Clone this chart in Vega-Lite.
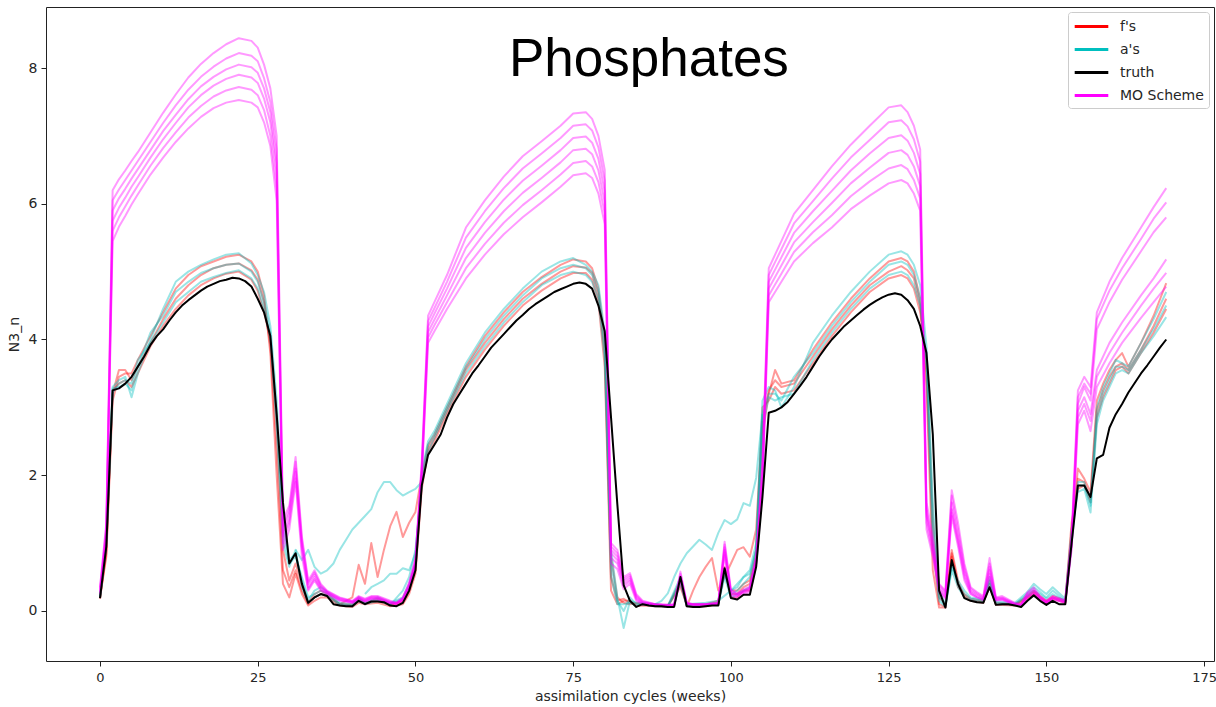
{
  "$schema": "https://vega.github.io/schema/vega-lite/v6.json",
  "width": 1168,
  "height": 654,
  "autosize": {"type": "none"},
  "padding": {"left": 46, "top": 7, "right": 2, "bottom": 46},
  "background": "white",
  "datasets": {
    "d": [
      {"t":0,"tr":0.19,"m1":0.35,"m2":0.33,"m3":0.3,"m4":0.28,"m5":0.26,"m6":0.24,"f1":0.2,"f2":0.19,"f3":0.18,"a1":0.22,"a2":0.2,"a3":0.19},
      {"t":1,"tr":0.95,"m1":1.3,"m2":1.25,"m3":1.2,"m4":1.15,"m5":1.1,"m6":1.05,"f1":0.8,"f2":0.85,"f3":0.9,"a1":1.0,"a2":1.05,"a3":0.95},
      {"t":2,"tr":3.25,"m1":6.2,"m2":6.05,"m3":5.9,"m4":5.75,"m5":5.6,"m6":5.45,"f1":3.1,"f2":3.2,"f3":3.25,"a1":3.3,"a2":3.28,"a3":3.22},
      {"t":3,"tr":3.28,"m1":6.36,"m2":6.21,"m3":6.08,"m4":5.94,"m5":5.8,"m6":5.66,"f1":3.45,"f2":3.55,"f3":3.35,"a1":3.4,"a2":3.3,"a3":3.35},
      {"t":4,"tr":3.35,"m1":6.49,"m2":6.35,"m3":6.22,"m4":6.09,"m5":5.96,"m6":5.82,"f1":3.5,"f2":3.55,"f3":3.4,"a1":3.45,"a2":3.35,"a3":3.4},
      {"t":5,"tr":3.45,"m1":6.63,"m2":6.49,"m3":6.37,"m4":6.25,"m5":6.12,"m6":5.99,"f1":3.5,"f2":3.4,"f3":3.3,"a1":3.15,"a2":3.25,"a3":3.35},
      {"t":6,"tr":3.6,"m1":6.76,"m2":6.63,"m3":6.51,"m4":6.39,"m5":6.27,"m6":6.14,"f1":3.7,"f2":3.6,"f3":3.5,"a1":3.5,"a2":3.6,"a3":3.7},
      {"t":7,"tr":3.75},
      {"t":8,"tr":3.92,"m1":7.05,"m2":6.91,"m3":6.79,"m4":6.68,"m5":6.56,"m6":6.43,"f1":4.05,"f2":3.95,"f3":3.9,"a1":4.0,"a2":4.1,"a3":3.95},
      {"t":9,"tr":4.05},
      {"t":10,"tr":4.15,"m1":7.34,"m2":7.19,"m3":7.07,"m4":6.95,"m5":6.82,"m6":6.68,"f1":4.4,"f2":4.3,"f3":4.2,"a1":4.45,"a2":4.35,"a3":4.25},
      {"t":11,"tr":4.28},
      {"t":12,"tr":4.4,"m1":7.61,"m2":7.45,"m3":7.31,"m4":7.19,"m5":7.05,"m6":6.91,"f1":4.75,"f2":4.6,"f3":4.45,"a1":4.85,"a2":4.7,"a3":4.55},
      {"t":13,"tr":4.5},
      {"t":14,"tr":4.58,"m1":7.86,"m2":7.68,"m3":7.54,"m4":7.42,"m5":7.27,"m6":7.11,"f1":4.95,"f2":4.8,"f3":4.65,"a1":5.0,"a2":4.85,"a3":4.7},
      {"t":15,"tr":4.65},
      {"t":16,"tr":4.72,"m1":8.06,"m2":7.87,"m3":7.73,"m4":7.6,"m5":7.44,"m6":7.28,"f1":5.08,"f2":4.95,"f3":4.8,"a1":5.1,"a2":4.98,"a3":4.85},
      {"t":17,"tr":4.78},
      {"t":18,"tr":4.82,"m1":8.22,"m2":8.02,"m3":7.87,"m4":7.74,"m5":7.58,"m6":7.41,"f1":5.15,"f2":5.05,"f3":4.9,"a1":5.18,"a2":5.05,"a3":4.92},
      {"t":19,"tr":4.86},
      {"t":20,"tr":4.88,"m1":8.35,"m2":8.14,"m3":7.98,"m4":7.84,"m5":7.67,"m6":7.49,"f1":5.22,"f2":5.1,"f3":4.97,"a1":5.25,"a2":5.1,"a3":4.98},
      {"t":21,"tr":4.91},
      {"t":22,"tr":4.9,"m1":8.44,"m2":8.22,"m3":8.05,"m4":7.9,"m5":7.72,"m6":7.53,"f1":5.25,"f2":5.12,"f3":5.0,"a1":5.27,"a2":5.12,"a3":5.02},
      {"t":23,"tr":4.86},
      {"t":24,"tr":4.78,"m1":8.4,"m2":8.18,"m3":8.01,"m4":7.86,"m5":7.68,"m6":7.49,"f1":5.15,"f2":5.02,"f3":4.88,"a1":5.12,"a2":5.0,"a3":4.9},
      {"t":25,"tr":4.6,"m1":8.3,"m2":8.1,"m3":7.93,"m4":7.78,"m5":7.6,"m6":7.42,"f1":5.0,"f2":4.88,"f3":4.72,"a1":4.95,"a2":4.85,"a3":4.75},
      {"t":26,"tr":4.4,"m1":8.05,"m2":7.85,"m3":7.7,"m4":7.55,"m5":7.38,"m6":7.2,"f1":4.65,"f2":4.55,"f3":4.4,"a1":4.7,"a2":4.55,"a3":4.45},
      {"t":27,"tr":4.05,"m1":7.7,"m2":7.5,"m3":7.35,"m4":7.2,"m5":7.0,"m6":6.85,"f1":3.8,"f2":3.9,"f3":4.0,"a1":4.2,"a2":4.1,"a3":4.0},
      {"t":28,"tr":2.9,"m1":7.0,"m2":6.8,"m3":6.6,"m4":6.45,"m5":6.25,"m6":6.05,"f1":2.0,"f2":2.4,"f3":2.8,"a1":3.1,"a2":2.9,"a3":2.7},
      {"t":29,"tr":1.6,"m1":1.35,"m2":1.25,"m3":1.15,"m4":1.1,"m5":1.0,"m6":0.9,"f1":0.4,"f2":0.6,"f3":0.9,"a1":1.4,"a2":1.2,"a3":1.0},
      {"t":30,"tr":0.7,"m1":1.55,"m2":1.5,"m3":1.45,"m4":1.35,"m5":1.3,"m6":1.2,"f1":0.2,"f2":0.35,"f3":0.45,"a1":0.75,"a2":0.7,"a3":0.65},
      {"t":31,"tr":0.85,"m1":2.27,"m2":2.2,"m3":2.1,"m4":2.05,"m5":1.95,"m6":1.9,"f1":0.55,"f2":0.6,"f3":0.7,"a1":0.85,"a2":0.8,"a3":0.9,"ao":0.9},
      {"t":32,"tr":0.4,"m1":1.1,"m2":1.05,"m3":1.0,"m4":0.95,"m5":0.9,"m6":0.8,"f1":0.25,"f2":0.3,"f3":0.4,"a1":0.45,"a2":0.5,"a3":0.35,"ao":0.75},
      {"t":33,"tr":0.12,"m1":0.45,"m2":0.42,"m3":0.4,"m4":0.35,"m5":0.32,"m6":0.3,"f1":0.08,"f2":0.1,"f3":0.12,"a1":0.15,"a2":0.2,"a3":0.12,"ao":0.9},
      {"t":34,"tr":0.2,"m1":0.6,"m2":0.57,"m3":0.54,"m4":0.5,"m5":0.47,"m6":0.45,"f1":0.15,"f2":0.2,"f3":0.25,"a1":0.3,"a2":0.25,"a3":0.2,"ao":0.65},
      {"t":35,"tr":0.25,"m1":0.4,"m2":0.38,"m3":0.36,"m4":0.34,"m5":0.32,"m6":0.3,"f1":0.2,"f2":0.25,"f3":0.3,"a1":0.35,"a2":0.3,"a3":0.25,"ao":0.55},
      {"t":36,"tr":0.22,"m1":0.3,"m2":0.29,"m3":0.28,"m4":0.27,"m5":0.26,"m6":0.25,"f1":0.2,"f2":0.22,"f3":0.25,"a1":0.28,"a2":0.25,"a3":0.22,"ao":0.6},
      {"t":37,"tr":0.1,"m1":0.25,"m2":0.24,"m3":0.23,"m4":0.22,"m5":0.21,"m6":0.2,"ao":0.7},
      {"t":38,"tr":0.08,"m1":0.2,"m2":0.19,"m3":0.18,"m4":0.17,"m5":0.16,"m6":0.15,"f1":0.08,"f2":0.1,"f3":0.1,"a1":0.12,"a2":0.1,"a3":0.09,"ao":0.9,"fo":0.1},
      {"t":39,"tr":0.07,"ao":1.05,"fo":0.15},
      {"t":40,"tr":0.07,"m1":0.15,"m2":0.14,"m3":0.14,"m4":0.13,"m5":0.12,"m6":0.12,"f1":0.06,"f2":0.08,"f3":0.1,"a1":0.1,"a2":0.08,"a3":0.07,"ao":1.2,"fo":0.2},
      {"t":41,"tr":0.15,"m1":0.22,"m2":0.21,"m3":0.2,"m4":0.19,"m5":0.18,"m6":0.17,"f1":0.12,"f2":0.15,"f3":0.18,"a1":0.2,"a2":0.17,"a3":0.15,"ao":1.3,"fo":0.68},
      {"t":42,"tr":0.1,"m1":0.18,"m2":0.17,"m3":0.16,"m4":0.15,"m5":0.14,"m6":0.14,"f1":0.1,"f2":0.11,"f3":0.12,"a1":0.12,"a2":0.11,"a3":0.1,"ao":1.4,"fo":0.4,"ap":0.25},
      {"t":43,"tr":0.14,"m1":0.22,"m2":0.21,"m3":0.2,"m4":0.19,"m5":0.18,"m6":0.17,"ao":1.5,"fo":1.0,"ap":0.35},
      {"t":44,"tr":0.14,"m1":0.22,"m2":0.21,"m3":0.2,"m4":0.19,"m5":0.18,"m6":0.17,"f1":0.12,"f2":0.15,"f3":0.18,"a1":0.2,"a2":0.17,"a3":0.15,"ao":1.75,"fo":0.5,"ap":0.4},
      {"t":45,"tr":0.13,"ao":1.9,"fo":0.9,"ap":0.45},
      {"t":46,"tr":0.08,"m1":0.15,"m2":0.14,"m3":0.13,"m4":0.12,"m5":0.12,"m6":0.11,"f1":0.07,"f2":0.09,"f3":0.1,"a1":0.12,"a2":0.1,"a3":0.09,"ao":1.9,"fo":1.25,"ap":0.55},
      {"t":47,"tr":0.07,"m1":0.12,"m2":0.12,"m3":0.11,"m4":0.11,"m5":0.1,"m6":0.1,"ao":1.78,"fo":1.46,"ap":0.55},
      {"t":48,"tr":0.12,"m1":0.2,"m2":0.19,"m3":0.18,"m4":0.17,"m5":0.16,"m6":0.15,"f1":0.1,"f2":0.12,"f3":0.15,"a1":0.2,"a2":0.18,"a3":0.3,"ao":1.7,"fo":1.09,"ap":0.63},
      {"t":49,"tr":0.3,"m1":0.42,"m2":0.4,"m3":0.38,"m4":0.36,"m5":0.34,"m6":0.32,"f1":0.25,"f2":0.3,"f3":0.35,"a1":0.4,"a2":0.35,"a3":0.5,"ao":1.75,"fo":1.3,"ap":0.6},
      {"t":50,"tr":0.6,"m1":0.78,"m2":0.75,"m3":0.72,"m4":0.7,"m5":0.68,"m6":0.65,"f1":0.55,"f2":0.6,"f3":0.7,"a1":0.7,"a2":0.65,"a3":0.9,"ao":1.8,"fo":1.46,"ap":0.85},
      {"t":51,"tr":1.85,"m1":2.2,"m2":2.15,"m3":2.1,"m4":2.05,"m5":2.0,"m6":1.95,"f1":1.8,"f2":1.9,"f3":2.0,"a1":2.05,"a2":1.95,"a3":1.85,"ao":1.9,"fo":2.0,"ap":1.9},
      {"t":52,"tr":2.3,"m1":4.35,"m2":4.27,"m3":4.19,"m4":4.11,"m5":4.03,"m6":3.95,"f1":2.35,"f2":2.4,"f3":2.45,"a1":2.5,"a2":2.45,"a3":2.35},
      {"t":53,"tr":2.45,"m1":4.55,"m2":4.46,"m3":4.38,"m4":4.29,"m5":4.21,"m6":4.12,"f1":2.5,"f2":2.55,"f3":2.6,"a1":2.65,"a2":2.6,"a3":2.55},
      {"t":54,"tr":2.6},
      {"t":55,"tr":2.85,"m1":4.95,"m2":4.85,"m3":4.75,"m4":4.65,"m5":4.55,"m6":4.45,"f1":2.9,"f2":2.95,"f3":3.0,"a1":3.05,"a2":3.0,"a3":2.95},
      {"t":56,"tr":3.05},
      {"t":57,"tr":3.2},
      {"t":58,"tr":3.35,"m1":5.65,"m2":5.5,"m3":5.35,"m4":5.2,"m5":5.05,"m6":4.9,"f1":3.45,"f2":3.55,"f3":3.6,"a1":3.65,"a2":3.58,"a3":3.5},
      {"t":59,"tr":3.5},
      {"t":60,"tr":3.62},
      {"t":61,"tr":3.75,"m1":6.05,"m2":5.89,"m3":5.73,"m4":5.57,"m5":5.41,"m6":5.25,"f1":3.85,"f2":3.95,"f3":4.05,"a1":4.1,"a2":4.0,"a3":3.9},
      {"t":62,"tr":3.88},
      {"t":63,"tr":3.98},
      {"t":64,"tr":4.08,"m1":6.4,"m2":6.23,"m3":6.06,"m4":5.89,"m5":5.72,"m6":5.55,"f1":4.2,"f2":4.3,"f3":4.4,"a1":4.45,"a2":4.35,"a3":4.25},
      {"t":65,"tr":4.18},
      {"t":66,"tr":4.28},
      {"t":67,"tr":4.36,"m1":6.7,"m2":6.52,"m3":6.34,"m4":6.16,"m5":5.98,"m6":5.8,"f1":4.5,"f2":4.6,"f3":4.7,"a1":4.75,"a2":4.65,"a3":4.55},
      {"t":68,"tr":4.45},
      {"t":69,"tr":4.52},
      {"t":70,"tr":4.58,"m1":6.92,"m2":6.74,"m3":6.56,"m4":6.38,"m5":6.2,"m6":6.02,"f1":4.72,"f2":4.82,"f3":4.92,"a1":5.0,"a2":4.9,"a3":4.8},
      {"t":71,"tr":4.64},
      {"t":72,"tr":4.7},
      {"t":73,"tr":4.74,"m1":7.15,"m2":6.97,"m3":6.79,"m4":6.61,"m5":6.43,"m6":6.25,"f1":4.9,"f2":5.0,"f3":5.1,"a1":5.15,"a2":5.05,"a3":4.95},
      {"t":74,"tr":4.78},
      {"t":75,"tr":4.82,"m1":7.33,"m2":7.15,"m3":6.97,"m4":6.79,"m5":6.6,"m6":6.42,"f1":4.98,"f2":5.08,"f3":5.18,"a1":5.2,"a2":5.1,"a3":5.0},
      {"t":76,"tr":4.84},
      {"t":77,"tr":4.82,"m1":7.35,"m2":7.17,"m3":6.99,"m4":6.81,"m5":6.63,"m6":6.45,"f1":4.98,"f2":5.06,"f3":5.15,"a1":5.1,"a2":5.05,"a3":4.95},
      {"t":78,"tr":4.75,"m1":7.25,"m2":7.08,"m3":6.9,"m4":6.73,"m5":6.55,"m6":6.38,"f1":4.88,"f2":4.98,"f3":5.05,"a1":5.0,"a2":4.95,"a3":4.85},
      {"t":79,"tr":4.5,"m1":7.0,"m2":6.83,"m3":6.66,"m4":6.49,"m5":6.32,"m6":6.15,"f1":4.55,"f2":4.65,"f3":4.75,"a1":4.8,"a2":4.7,"a3":4.6},
      {"t":80,"tr":4.12,"m1":6.5,"m2":6.34,"m3":6.18,"m4":6.02,"m5":5.86,"m6":5.7,"f1":3.6,"f2":3.8,"f3":4.0,"a1":4.1,"a2":3.9,"a3":3.7},
      {"t":81,"tr":2.85,"m1":1.0,"m2":0.95,"m3":0.9,"m4":0.85,"m5":0.78,"m6":0.7,"f1":0.3,"f2":0.5,"f3":0.8,"a1":0.9,"a2":0.7,"a3":0.5},
      {"t":82,"tr":1.57,"m1":0.9,"m2":0.85,"m3":0.8,"m4":0.75,"m5":0.7,"m6":0.62,"f1":0.1,"f2":0.15,"f3":0.2,"a1":0.2,"a2":0.15,"a3":0.1},
      {"t":83,"tr":0.38,"m1":0.5,"m2":0.47,"m3":0.44,"m4":0.4,"m5":0.36,"m6":0.32,"f1":0.15,"f2":0.18,"f3":0.12,"a1":-0.25,"a2":0.0,"a3":0.1},
      {"t":84,"tr":0.15,"m1":0.56,"m2":0.53,"m3":0.5,"m4":0.47,"m5":0.44,"m6":0.4,"f1":0.15,"f2":0.12,"f3":0.1,"a1":0.15,"a2":0.2,"a3":0.12},
      {"t":85,"tr":0.06,"m1":0.25,"m2":0.23,"m3":0.21,"m4":0.19,"m5":0.17,"m6":0.15,"f1":0.07,"f2":0.1,"f3":0.12,"a1":0.12,"a2":0.1,"a3":0.08},
      {"t":86,"tr":0.1,"m1":0.15,"m2":0.14,"m3":0.13,"m4":0.12,"m5":0.11,"m6":0.1,"f1":0.08,"f2":0.1,"f3":0.11,"a1":0.12,"a2":0.11,"a3":0.1},
      {"t":87,"tr":0.08},
      {"t":88,"tr":0.07,"m1":0.1,"m2":0.1,"m3":0.1,"m4":0.09,"m5":0.09,"m6":0.08,"f1":0.07,"f2":0.08,"f3":0.1,"a1":0.1,"a2":0.08,"a3":0.07,"aq":0.1},
      {"t":89,"tr":0.07,"aq":0.15},
      {"t":90,"tr":0.06,"m1":0.09,"m2":0.09,"m3":0.08,"m4":0.08,"m5":0.07,"m6":0.07,"f1":0.06,"f2":0.07,"f3":0.08,"a1":0.08,"a2":0.07,"a3":0.06,"aq":0.26},
      {"t":91,"tr":0.06,"m1":0.1,"m2":0.1,"m3":0.09,"m4":0.09,"m5":0.08,"m6":0.08,"aq":0.5},
      {"t":92,"tr":0.5,"m1":0.58,"m2":0.55,"m3":0.52,"m4":0.5,"m5":0.48,"m6":0.45,"f1":0.45,"f2":0.4,"f3":0.35,"a1":0.5,"a2":0.45,"a3":0.4,"aq":0.7},
      {"t":93,"tr":0.07,"m1":0.12,"m2":0.12,"m3":0.11,"m4":0.11,"m5":0.1,"m6":0.1,"f1":0.07,"f2":0.08,"f3":0.1,"a1":0.1,"a2":0.08,"a3":0.07,"aq":0.85,"fq":0.06},
      {"t":94,"tr":0.06,"m1":0.1,"m2":0.1,"m3":0.1,"m4":0.09,"m5":0.09,"m6":0.09,"aq":0.95,"fq":0.3},
      {"t":95,"tr":0.06,"aq":1.05,"fq":0.5},
      {"t":96,"tr":0.07,"m1":0.1,"m2":0.1,"m3":0.1,"m4":0.09,"m5":0.09,"m6":0.09,"f1":0.07,"f2":0.08,"f3":0.1,"a1":0.12,"a2":0.1,"a3":0.08,"aq":0.98,"fq":0.65},
      {"t":97,"tr":0.08,"aq":0.9,"fq":0.78},
      {"t":98,"tr":0.08,"m1":0.12,"m2":0.12,"m3":0.11,"m4":0.11,"m5":0.1,"m6":0.1,"f1":0.1,"f2":0.12,"f3":0.15,"a1":0.15,"a2":0.12,"a3":0.1,"aq":1.15,"fq":0.3,"ar":0.15},
      {"t":99,"tr":0.63,"m1":1.02,"m2":0.98,"m3":0.94,"m4":0.9,"m5":0.86,"m6":0.82,"f1":0.65,"f2":0.6,"f3":0.55,"a1":0.6,"a2":0.55,"a3":0.5,"aq":1.34,"fq":0.5},
      {"t":100,"tr":0.19,"m1":0.32,"m2":0.3,"m3":0.28,"m4":0.26,"m5":0.24,"m6":0.22,"f1":0.2,"f2":0.25,"f3":0.3,"a1":0.3,"a2":0.25,"a3":0.2,"aq":1.28,"fq":0.7,"ar":0.3},
      {"t":101,"tr":0.17,"m1":0.26,"m2":0.25,"m3":0.24,"m4":0.23,"m5":0.22,"m6":0.2,"f1":0.2,"f2":0.25,"f3":0.3,"a1":0.35,"a2":0.3,"a3":0.25,"aq":1.35,"fq":0.9,"ar":0.4},
      {"t":102,"tr":0.24,"m1":0.32,"m2":0.3,"m3":0.29,"m4":0.28,"m5":0.27,"m6":0.25,"f1":0.3,"f2":0.35,"f3":0.4,"a1":0.5,"a2":0.4,"a3":0.3,"aq":1.59,"fq":0.94,"ar":0.5},
      {"t":103,"tr":0.24,"m1":0.36,"m2":0.34,"m3":0.33,"m4":0.32,"m5":0.3,"m6":0.28,"f1":0.3,"f2":0.4,"f3":0.45,"a1":0.6,"a2":0.5,"a3":0.35,"aq":1.55,"fq":0.8,"ar":0.55},
      {"t":104,"tr":0.65,"m1":0.8,"m2":0.78,"m3":0.75,"m4":0.72,"m5":0.7,"m6":0.66,"f1":0.7,"f2":0.8,"f3":0.9,"a1":1.0,"a2":0.9,"a3":0.8,"aq":1.96,"fq":1.2,"ar":0.9},
      {"t":105,"tr":1.68,"m1":2.2,"m2":2.1,"m3":2.0,"m4":1.95,"m5":1.9,"m6":1.8,"f1":2.6,"f2":2.8,"f3":3.0,"a1":3.1,"a2":2.9,"a3":2.7,"aq":2.9,"fq":2.8,"ar":2.6},
      {"t":106,"tr":2.92,"m1":5.05,"m2":4.95,"m3":4.85,"m4":4.75,"m5":4.65,"m6":4.55,"f1":3.2,"f2":3.25,"f3":3.1,"a1":3.3,"a2":3.2,"a3":3.15},
      {"t":107,"tr":2.95,"m1":5.25,"m2":5.14,"m3":5.03,"m4":4.92,"m5":4.81,"m6":4.7,"f1":3.55,"f2":3.4,"f3":3.3,"a1":3.25,"a2":3.2,"a3":3.1},
      {"t":108,"tr":3.0,"m1":5.45,"m2":5.33,"m3":5.21,"m4":5.09,"m5":4.97,"m6":4.85,"f1":3.35,"f2":3.3,"f3":3.2,"a1":3.0,"a2":3.1,"a3":3.15},
      {"t":109,"tr":3.08},
      {"t":110,"tr":3.2,"m1":5.85,"m2":5.71,"m3":5.57,"m4":5.43,"m5":5.29,"m6":5.15,"f1":3.4,"f2":3.35,"f3":3.25,"a1":3.3,"a2":3.45,"a3":3.2},
      {"t":111,"tr":3.32},
      {"t":112,"tr":3.45},
      {"t":113,"tr":3.6,"m1":6.2,"m2":6.04,"m3":5.89,"m4":5.73,"m5":5.58,"m6":5.42,"f1":3.85,"f2":3.75,"f3":3.65,"a1":3.95,"a2":3.8,"a3":3.7},
      {"t":114,"tr":3.75},
      {"t":115,"tr":3.88},
      {"t":116,"tr":4.0,"m1":6.55,"m2":6.37,"m3":6.19,"m4":6.01,"m5":5.83,"m6":5.65,"f1":4.25,"f2":4.15,"f3":4.05,"a1":4.35,"a2":4.2,"a3":4.1},
      {"t":117,"tr":4.1},
      {"t":118,"tr":4.2},
      {"t":119,"tr":4.28,"m1":6.87,"m2":6.68,"m3":6.49,"m4":6.3,"m5":6.11,"m6":5.92,"f1":4.6,"f2":4.5,"f3":4.4,"a1":4.7,"a2":4.55,"a3":4.45},
      {"t":120,"tr":4.36},
      {"t":121,"tr":4.44},
      {"t":122,"tr":4.51,"m1":7.15,"m2":6.94,"m3":6.74,"m4":6.53,"m5":6.33,"m6":6.12,"f1":4.9,"f2":4.8,"f3":4.7,"a1":5.0,"a2":4.85,"a3":4.75},
      {"t":123,"tr":4.57},
      {"t":124,"tr":4.62},
      {"t":125,"tr":4.66,"m1":7.42,"m2":7.2,"m3":6.97,"m4":6.75,"m5":6.52,"m6":6.3,"f1":5.15,"f2":5.0,"f3":4.9,"a1":5.25,"a2":5.1,"a3":4.95},
      {"t":126,"tr":4.68},
      {"t":127,"tr":4.66,"m1":7.45,"m2":7.23,"m3":7.01,"m4":6.79,"m5":6.57,"m6":6.35,"f1":5.2,"f2":5.08,"f3":4.95,"a1":5.3,"a2":5.15,"a3":5.0},
      {"t":128,"tr":4.58,"m1":7.35,"m2":7.14,"m3":6.93,"m4":6.72,"m5":6.51,"m6":6.3,"f1":5.15,"f2":5.02,"f3":4.9,"a1":5.25,"a2":5.1,"a3":4.95},
      {"t":129,"tr":4.45,"m1":7.15,"m2":6.95,"m3":6.75,"m4":6.55,"m5":6.35,"m6":6.15,"f1":5.0,"f2":4.9,"f3":4.75,"a1":5.1,"a2":4.95,"a3":4.8},
      {"t":130,"tr":4.2,"m1":6.8,"m2":6.62,"m3":6.44,"m4":6.26,"m5":6.08,"m6":5.9,"f1":4.6,"f2":4.5,"f3":4.4,"a1":4.8,"a2":4.6,"a3":4.5},
      {"t":131,"tr":3.8,"m1":1.6,"m2":1.5,"m3":1.45,"m4":1.4,"m5":1.3,"m6":1.2,"f1":3.3,"f2":3.5,"f3":3.7,"a1":3.9,"a2":3.7,"a3":3.6},
      {"t":132,"tr":2.6,"m1":1.1,"m2":1.0,"m3":0.95,"m4":0.9,"m5":0.85,"m6":0.8,"f1":0.6,"f2":1.0,"f3":1.4,"a1":1.6,"a2":1.3,"a3":1.0},
      {"t":133,"tr":0.3,"m1":0.4,"m2":0.38,"m3":0.35,"m4":0.32,"m5":0.3,"m6":0.28,"f1":0.05,"f2":0.1,"f3":0.2,"a1":0.3,"a2":0.2,"a3":0.15},
      {"t":134,"tr":0.05,"m1":0.3,"m2":0.28,"m3":0.25,"m4":0.22,"m5":0.2,"m6":0.18,"f1":0.05,"f2":0.06,"f3":0.1,"a1":0.1,"a2":0.08,"a3":0.06},
      {"t":135,"tr":0.75,"m1":1.78,"m2":1.7,"m3":1.6,"m4":1.5,"m5":1.45,"m6":1.4,"f1":0.9,"f2":0.85,"f3":0.8,"a1":0.7,"a2":0.65,"a3":0.6},
      {"t":136,"tr":0.4,"m1":1.3,"m2":1.2,"m3":1.1,"m4":1.05,"m5":1.0,"m6":0.95,"f1":0.45,"f2":0.4,"f3":0.35,"a1":0.4,"a2":0.45,"a3":0.35},
      {"t":137,"tr":0.19,"m1":0.7,"m2":0.65,"m3":0.6,"m4":0.55,"m5":0.5,"m6":0.45,"f1":0.2,"f2":0.22,"f3":0.25,"a1":0.25,"a2":0.3,"a3":0.2},
      {"t":138,"tr":0.15,"m1":0.35,"m2":0.33,"m3":0.3,"m4":0.28,"m5":0.26,"m6":0.25,"f1":0.15,"f2":0.16,"f3":0.18,"a1":0.18,"a2":0.2,"a3":0.16},
      {"t":139,"tr":0.13,"m1":0.28,"m2":0.26,"m3":0.24,"m4":0.22,"m5":0.2,"m6":0.2},
      {"t":140,"tr":0.12,"m1":0.22,"m2":0.2,"m3":0.19,"m4":0.18,"m5":0.17,"m6":0.16,"f1":0.12,"f2":0.13,"f3":0.15,"a1":0.15,"a2":0.17,"a3":0.13},
      {"t":141,"tr":0.35,"m1":0.78,"m2":0.7,"m3":0.65,"m4":0.6,"m5":0.55,"m6":0.5,"f1":0.4,"f2":0.35,"f3":0.45,"a1":0.45,"a2":0.5,"a3":0.4},
      {"t":142,"tr":0.09,"m1":0.2,"m2":0.19,"m3":0.18,"m4":0.17,"m5":0.16,"m6":0.15,"f1":0.09,"f2":0.1,"f3":0.12,"a1":0.12,"a2":0.14,"a3":0.1},
      {"t":143,"tr":0.1,"m1":0.22,"m2":0.2,"m3":0.19,"m4":0.18,"m5":0.17,"m6":0.16},
      {"t":144,"tr":0.1},
      {"t":145,"tr":0.08,"m1":0.12,"m2":0.11,"m3":0.1,"m4":0.1,"m5":0.09,"m6":0.09,"f1":0.08,"f2":0.09,"f3":0.1,"a1":0.1,"a2":0.12,"a3":0.09},
      {"t":146,"tr":0.06,"m1":0.1,"m2":0.1,"m3":0.09,"m4":0.09,"m5":0.08,"m6":0.08},
      {"t":147,"tr":0.15,"m1":0.28,"m2":0.26,"m3":0.24,"m4":0.22,"m5":0.2,"m6":0.2,"f1":0.18,"f2":0.2,"f3":0.22,"a1":0.25,"a2":0.28,"a3":0.22},
      {"t":148,"tr":0.23,"m1":0.35,"m2":0.32,"m3":0.3,"m4":0.28,"m5":0.26,"m6":0.25,"f1":0.25,"f2":0.28,"f3":0.3,"a1":0.35,"a2":0.4,"a3":0.3},
      {"t":149,"tr":0.15,"m1":0.22,"m2":0.2,"m3":0.2,"m4":0.19,"m5":0.18,"m6":0.17,"f1":0.18,"f2":0.2,"f3":0.22,"a1":0.28,"a2":0.32,"a3":0.25},
      {"t":150,"tr":0.09,"m1":0.15,"m2":0.14,"m3":0.13,"m4":0.12,"m5":0.12,"m6":0.11,"f1":0.12,"f2":0.14,"f3":0.15,"a1":0.2,"a2":0.25,"a3":0.18},
      {"t":151,"tr":0.15,"m1":0.22,"m2":0.2,"m3":0.2,"m4":0.19,"m5":0.18,"m6":0.17,"f1":0.18,"f2":0.2,"f3":0.22,"a1":0.3,"a2":0.35,"a3":0.25},
      {"t":152,"tr":0.1},
      {"t":153,"tr":0.1,"m1":0.16,"m2":0.15,"m3":0.14,"m4":0.13,"m5":0.12,"m6":0.12,"f1":0.12,"f2":0.13,"f3":0.15,"a1":0.15,"a2":0.18,"a3":0.14},
      {"t":154,"tr":1.0,"m1":1.1,"m2":1.05,"m3":1.0,"m4":1.0,"m5":0.95,"m6":0.9,"f1":1.1,"f2":1.2,"f3":1.3,"a1":1.2,"a2":1.1,"a3":1.0},
      {"t":155,"tr":1.85,"m1":3.25,"m2":3.15,"m3":3.05,"m4":2.95,"m5":2.85,"m6":2.75,"f1":2.1,"f2":1.95,"f3":1.8,"a1":1.75,"a2":1.85,"a3":1.9},
      {"t":156,"tr":1.85,"m1":3.45,"m2":3.35,"m3":3.3,"m4":3.15,"m5":3.05,"m6":2.95,"f1":1.95,"f2":1.9,"f3":1.85,"a1":1.8,"a2":1.85,"a3":1.9},
      {"t":157,"tr":1.68,"m1":3.3,"m2":3.2,"m3":3.1,"m4":2.9,"m5":2.8,"m6":2.65,"f1":1.75,"f2":1.65,"f3":1.6,"a1":1.45,"a2":1.55,"a3":1.6},
      {"t":158,"tr":2.25,"m1":4.4,"m2":4.3,"m3":4.15,"m4":3.55,"m5":3.45,"m6":3.3,"f1":3.1,"f2":2.95,"f3":2.85,"a1":2.75,"a2":2.85,"a3":3.0},
      {"t":159,"tr":2.3,"f1":3.35,"f2":3.25,"f3":3.15,"a1":3.1,"a2":3.2,"a3":3.3},
      {"t":160,"tr":2.7,"m1":4.85,"m2":4.72,"m3":4.55,"m4":3.95,"m5":3.8,"m6":3.65,"f1":3.55,"f2":3.45,"f3":3.35,"a1":3.3,"a2":3.4,"a3":3.5},
      {"t":161,"tr":2.9,"f1":3.7,"f2":3.6,"f3":3.55,"a1":3.5,"a2":3.6,"a3":3.7},
      {"t":162,"tr":3.05,"m1":5.2,"m2":5.05,"m3":4.88,"m4":4.25,"m5":4.1,"m6":3.95,"f1":3.8,"f2":3.65,"f3":3.6,"a1":3.55,"a2":3.6,"a3":3.65},
      {"t":163,"tr":3.22,"f1":3.6,"f2":3.55,"f3":3.5,"a1":3.5,"a2":3.55,"a3":3.6},
      {"t":164,"tr":3.36},
      {"t":165,"tr":3.5,"m1":5.65,"m2":5.48,"m3":5.3,"m4":4.65,"m5":4.5,"m6":4.32,"f1":3.95,"f2":3.85,"f3":3.8,"a1":3.8,"a2":3.85,"a3":3.95},
      {"t":166,"tr":3.62},
      {"t":167,"tr":3.75,"m1":5.95,"m2":5.78,"m3":5.58,"m4":4.9,"m5":4.75,"m6":4.55,"f1":4.35,"f2":4.2,"f3":4.1,"a1":4.05,"a2":4.15,"a3":4.3},
      {"t":168,"tr":3.88},
      {"t":169,"tr":4.0,"m1":6.23,"m2":6.02,"m3":5.8,"m4":5.18,"m5":4.98,"m6":4.78,"f1":4.83,"f2":4.6,"f3":4.45,"a1":4.33,"a2":4.5,"a3":4.7}
    ]
  },
  "layer": [
    {
      "data": {"name": "d"},
      "transform": [
        {"fold": ["f1", "f2", "f3", "fo", "fq"], "as": ["k", "v"]},
        {"filter": "isValid(datum.v)"}
      ],
      "mark": {"type": "line", "strokeWidth": 2, "opacity": 0.4, "strokeJoin": "round"},
      "encoding": {
        "x": {"field": "t", "type": "quantitative", "scale": {"domain": [-8.56, 176.57], "nice": false, "zero": false},
              "axis": {"values": [0, 25, 50, 75, 100, 125, 150, 175], "format": "d", "title": "assimilation cycles (weeks)", "labelFontSize": 13, "labelPadding": 5, "titlePadding": 5}},
        "y": {"field": "v", "type": "quantitative", "scale": {"domain": [-0.737, 8.899], "nice": false, "zero": false},
              "axis": {"values": [0, 2, 4, 6, 8], "format": "d", "title": "N3_n", "labelPadding": 4, "titlePadding": 7}},
        "detail": {"field": "k"},
        "color": {"datum": "f's", "type": "nominal",
                  "scale": {"domain": ["f's", "a's", "truth", "MO Scheme"], "range": ["#ff0000", "#00bfbf", "#000000", "#ff00ff"]},
                  "legend": {"title": null}}
      }
    },
    {
      "data": {"name": "d"},
      "transform": [
        {"fold": ["a1", "a2", "a3", "ao", "ap", "aq", "ar"], "as": ["k", "v"]},
        {"filter": "isValid(datum.v)"}
      ],
      "mark": {"type": "line", "strokeWidth": 2, "opacity": 0.4, "strokeJoin": "round"},
      "encoding": {
        "x": {"field": "t", "type": "quantitative"},
        "y": {"field": "v", "type": "quantitative"},
        "detail": {"field": "k"},
        "color": {"datum": "a's", "type": "nominal"}
      }
    },
    {
      "data": {"name": "d"},
      "transform": [
        {"fold": ["m1", "m2", "m3", "m4", "m5", "m6"], "as": ["k", "v"]},
        {"filter": "isValid(datum.v)"}
      ],
      "mark": {"type": "line", "strokeWidth": 2, "opacity": 0.4, "strokeJoin": "round"},
      "encoding": {
        "x": {"field": "t", "type": "quantitative"},
        "y": {"field": "v", "type": "quantitative"},
        "detail": {"field": "k"},
        "color": {"datum": "MO Scheme", "type": "nominal"}
      }
    },
    {
      "data": {"name": "d"},
      "mark": {"type": "line", "strokeWidth": 2, "strokeJoin": "round"},
      "encoding": {
        "x": {"field": "t", "type": "quantitative"},
        "y": {"field": "tr", "type": "quantitative"},
        "color": {"datum": "truth", "type": "nominal"}
      }
    },
    {
      "data": {"values": [{"label": "Phosphates"}]},
      "mark": {"type": "text", "font": "Liberation Sans", "fontSize": 53, "align": "center", "baseline": "alphabetic", "color": "#000000"},
      "encoding": {
        "x": {"datum": 87},
        "y": {"datum": 7.88},
        "text": {"field": "label"}
      }
    }
  ],
  "config": {
    "view": {"stroke": "#222222", "strokeWidth": 1},
    "axis": {
      "grid": false,
      "domain": false,
      "tickColor": "#222222",
      "tickSize": 5,
      "labelFont": "DejaVu Sans",
      "labelFontSize": 14,
      "labelColor": "#262626",
      "titleFont": "DejaVu Sans",
      "titleFontSize": 14,
      "titleFontWeight": "normal",
      "titleColor": "#262626"
    },
    "legend": {
      "orient": "none",
      "legendX": 1022,
      "legendY": 5,
      "symbolType": "M-2.1,0H2.1",
      "symbolSize": 256,
      "symbolOffset": 9,
      "symbolStrokeWidth": 3,
      "symbolOpacity": 1,
      "labelFont": "DejaVu Sans",
      "labelFontSize": 14,
      "labelColor": "#262626",
      "labelOffset": 19,
      "rowPadding": 6,
      "padding": 5,
      "strokeColor": "#cccccc",
      "fillColor": "#ffffff",
      "cornerRadius": 3
    }
  }
}
